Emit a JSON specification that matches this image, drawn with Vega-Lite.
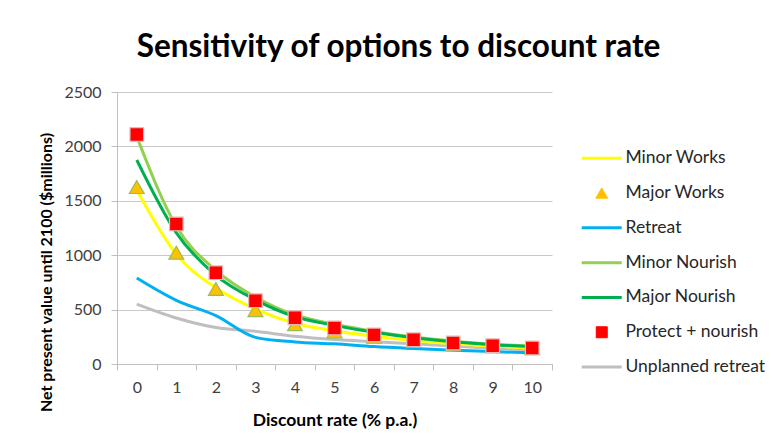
{
  "$schema": "https://vega.github.io/schema/vega-lite/v6.json",
  "width": 435,
  "height": 272,
  "autosize": {"type": "none"},
  "padding": {"left": 117, "top": 92, "right": 223, "bottom": 82},
  "background": "white",
  "config": {
    "font": "Lato",
    "view": {"stroke": null},
    "legend": {"padding": 0}
  },
  "title": {
    "text": "Sensitivity of options to discount rate",
    "fontSize": 31.5,
    "fontWeight": "bold",
    "color": "#000000",
    "anchor": "middle",
    "frame": "group",
    "dx": 64,
    "baseline": "alphabetic",
    "offset": -4
  },
  "data": {
    "values": [
      {"rate": 0, "series": "Unplanned retreat", "value": 551},
      {"rate": 1, "series": "Unplanned retreat", "value": 423},
      {"rate": 2, "series": "Unplanned retreat", "value": 335},
      {"rate": 3, "series": "Unplanned retreat", "value": 300},
      {"rate": 4, "series": "Unplanned retreat", "value": 255},
      {"rate": 5, "series": "Unplanned retreat", "value": 225},
      {"rate": 6, "series": "Unplanned retreat", "value": 205},
      {"rate": 7, "series": "Unplanned retreat", "value": 185},
      {"rate": 8, "series": "Unplanned retreat", "value": 165},
      {"rate": 9, "series": "Unplanned retreat", "value": 147},
      {"rate": 10, "series": "Unplanned retreat", "value": 128},
      {"rate": 0, "series": "Retreat", "value": 790},
      {"rate": 1, "series": "Retreat", "value": 585},
      {"rate": 2, "series": "Retreat", "value": 444},
      {"rate": 3, "series": "Retreat", "value": 245},
      {"rate": 4, "series": "Retreat", "value": 203},
      {"rate": 5, "series": "Retreat", "value": 185},
      {"rate": 6, "series": "Retreat", "value": 160},
      {"rate": 7, "series": "Retreat", "value": 142},
      {"rate": 8, "series": "Retreat", "value": 127},
      {"rate": 9, "series": "Retreat", "value": 114},
      {"rate": 10, "series": "Retreat", "value": 103},
      {"rate": 0, "series": "Minor Works", "value": 1600},
      {"rate": 1, "series": "Minor Works", "value": 1010},
      {"rate": 2, "series": "Minor Works", "value": 700},
      {"rate": 3, "series": "Minor Works", "value": 505},
      {"rate": 4, "series": "Minor Works", "value": 375},
      {"rate": 5, "series": "Minor Works", "value": 305},
      {"rate": 6, "series": "Minor Works", "value": 255},
      {"rate": 7, "series": "Minor Works", "value": 215},
      {"rate": 8, "series": "Minor Works", "value": 185},
      {"rate": 9, "series": "Minor Works", "value": 163},
      {"rate": 10, "series": "Minor Works", "value": 148},
      {"rate": 0, "series": "Minor Nourish", "value": 2090},
      {"rate": 1, "series": "Minor Nourish", "value": 1265},
      {"rate": 2, "series": "Minor Nourish", "value": 860},
      {"rate": 3, "series": "Minor Nourish", "value": 615},
      {"rate": 4, "series": "Minor Nourish", "value": 450},
      {"rate": 5, "series": "Minor Nourish", "value": 365},
      {"rate": 6, "series": "Minor Nourish", "value": 300},
      {"rate": 7, "series": "Minor Nourish", "value": 248},
      {"rate": 8, "series": "Minor Nourish", "value": 210},
      {"rate": 9, "series": "Minor Nourish", "value": 182},
      {"rate": 10, "series": "Minor Nourish", "value": 162},
      {"rate": 0, "series": "Major Nourish", "value": 1875},
      {"rate": 1, "series": "Major Nourish", "value": 1206},
      {"rate": 2, "series": "Major Nourish", "value": 815},
      {"rate": 3, "series": "Major Nourish", "value": 590},
      {"rate": 4, "series": "Major Nourish", "value": 435},
      {"rate": 5, "series": "Major Nourish", "value": 355},
      {"rate": 6, "series": "Major Nourish", "value": 292},
      {"rate": 7, "series": "Major Nourish", "value": 242},
      {"rate": 8, "series": "Major Nourish", "value": 205},
      {"rate": 9, "series": "Major Nourish", "value": 178},
      {"rate": 10, "series": "Major Nourish", "value": 160},
      {"rate": 0, "series": "Major Works", "value": 1626},
      {"rate": 1, "series": "Major Works", "value": 1023},
      {"rate": 2, "series": "Major Works", "value": 690},
      {"rate": 3, "series": "Major Works", "value": 495},
      {"rate": 4, "series": "Major Works", "value": 365},
      {"rate": 5, "series": "Major Works", "value": 298},
      {"rate": 6, "series": "Major Works", "value": 250},
      {"rate": 7, "series": "Major Works", "value": 212},
      {"rate": 8, "series": "Major Works", "value": 182},
      {"rate": 9, "series": "Major Works", "value": 160},
      {"rate": 10, "series": "Major Works", "value": 145},
      {"rate": 0, "series": "Protect + nourish", "value": 2110},
      {"rate": 1, "series": "Protect + nourish", "value": 1287},
      {"rate": 2, "series": "Protect + nourish", "value": 839},
      {"rate": 3, "series": "Protect + nourish", "value": 582},
      {"rate": 4, "series": "Protect + nourish", "value": 425},
      {"rate": 5, "series": "Protect + nourish", "value": 331},
      {"rate": 6, "series": "Protect + nourish", "value": 268},
      {"rate": 7, "series": "Protect + nourish", "value": 223},
      {"rate": 8, "series": "Protect + nourish", "value": 193},
      {"rate": 9, "series": "Protect + nourish", "value": 168},
      {"rate": 10, "series": "Protect + nourish", "value": 147}
    ]
  },
  "encoding": {
    "x": {
      "field": "rate",
      "type": "ordinal",
      "scale": {"type": "band", "paddingInner": 0, "paddingOuter": 0},
      "axis": {
        "title": "Discount rate (% p.a.)",
        "titleFontSize": 17.5,
        "titleFontWeight": "bold",
        "titleColor": "#000000",
        "titleBaseline": "alphabetic",
        "titleY": 61,
        "labelAngle": 0,
        "labelFontSize": 16,
        "labelColor": "#404040",
        "labelPadding": 9,
        "tickBand": "extent",
        "tickSize": 6,
        "tickColor": "#BFBFBF",
        "domainColor": "#BFBFBF",
        "grid": false
      }
    },
    "y": {
      "field": "value",
      "type": "quantitative",
      "scale": {"domain": [0, 2500], "nice": false},
      "axis": {
        "title": "Net present value until 2100 ($millions)",
        "titleFontSize": 16,
        "titleFontWeight": "bold",
        "titleColor": "#000000",
        "titleX": -71,
        "titleY": 180,
        "titleAlign": "center",
        "titleBaseline": "middle",
        "values": [0, 500, 1000, 1500, 2000, 2500],
        "format": "d",
        "labelFontSize": 16,
        "labelColor": "#404040",
        "labelPadding": 10,
        "tickSize": 6,
        "tickColor": "#BFBFBF",
        "domainColor": "#BFBFBF",
        "gridColor": "#C8C8C8",
        "grid": true
      }
    }
  },
  "layer": [
    {
      "transform": [{"filter": "datum.series !== 'Major Works' && datum.series !== 'Protect + nourish'"}],
      "mark": {"type": "line", "strokeWidth": 3, "interpolate": "monotone"},
      "encoding": {
        "color": {
          "field": "series",
          "type": "nominal",
          "scale": {
            "domain": ["Minor Works", "Major Works", "Retreat", "Minor Nourish", "Major Nourish", "Protect + nourish", "Unplanned retreat"],
            "range": ["#FFFF00", "#FFC000", "#00B0F0", "#92D050", "#00B050", "#FF0000", "#BFBFBF"]
          },
          "legend": {
            "title": null,
            "orient": "none",
            "legendX": 476,
            "legendY": 57.5,
            "symbolType": "stroke",
            "symbolSize": 196,
            "labelFontSize": 17.5,
            "labelColor": "#262626",
            "labelOffset": 15,
            "rowPadding": 15.8,
            "encode": {
              "symbols": {
                "update": {
                  "shape": {"signal": "datum.value === 'Major Works' ? 'triangle-up' : datum.value === 'Protect + nourish' ? 'square' : 'stroke'"},
                  "size": {"signal": "datum.value === 'Major Works' ? 140 : datum.value === 'Protect + nourish' ? 121 : 1600"},
                  "fill": {"signal": "datum.value === 'Major Works' ? '#FFC000' : datum.value === 'Protect + nourish' ? '#FF0000' : 'transparent'"},
                  "stroke": {"signal": "datum.value === 'Major Works' ? '#9BBB59' : datum.value === 'Protect + nourish' ? '#E6B9B8' : scale('color', datum.value)"},
                  "strokeWidth": {"signal": "datum.value === 'Major Works' || datum.value === 'Protect + nourish' ? 1 : 3"},
                  "opacity": {"value": 1}
                }
              }
            }
          }
        }
      }
    },
    {
      "transform": [{"filter": "datum.series === 'Major Works'"}],
      "mark": {"type": "point", "shape": "triangle-up", "filled": true, "size": 220, "stroke": "#9BBB59", "strokeWidth": 1.2, "opacity": 1},
      "encoding": {
        "color": {"field": "series", "type": "nominal"}
      }
    },
    {
      "transform": [{"filter": "datum.series === 'Protect + nourish'"}],
      "mark": {"type": "point", "shape": "square", "filled": true, "size": 185, "stroke": "#E6B9B8", "strokeWidth": 1.2, "opacity": 1},
      "encoding": {
        "color": {"field": "series", "type": "nominal"}
      }
    }
  ]
}
